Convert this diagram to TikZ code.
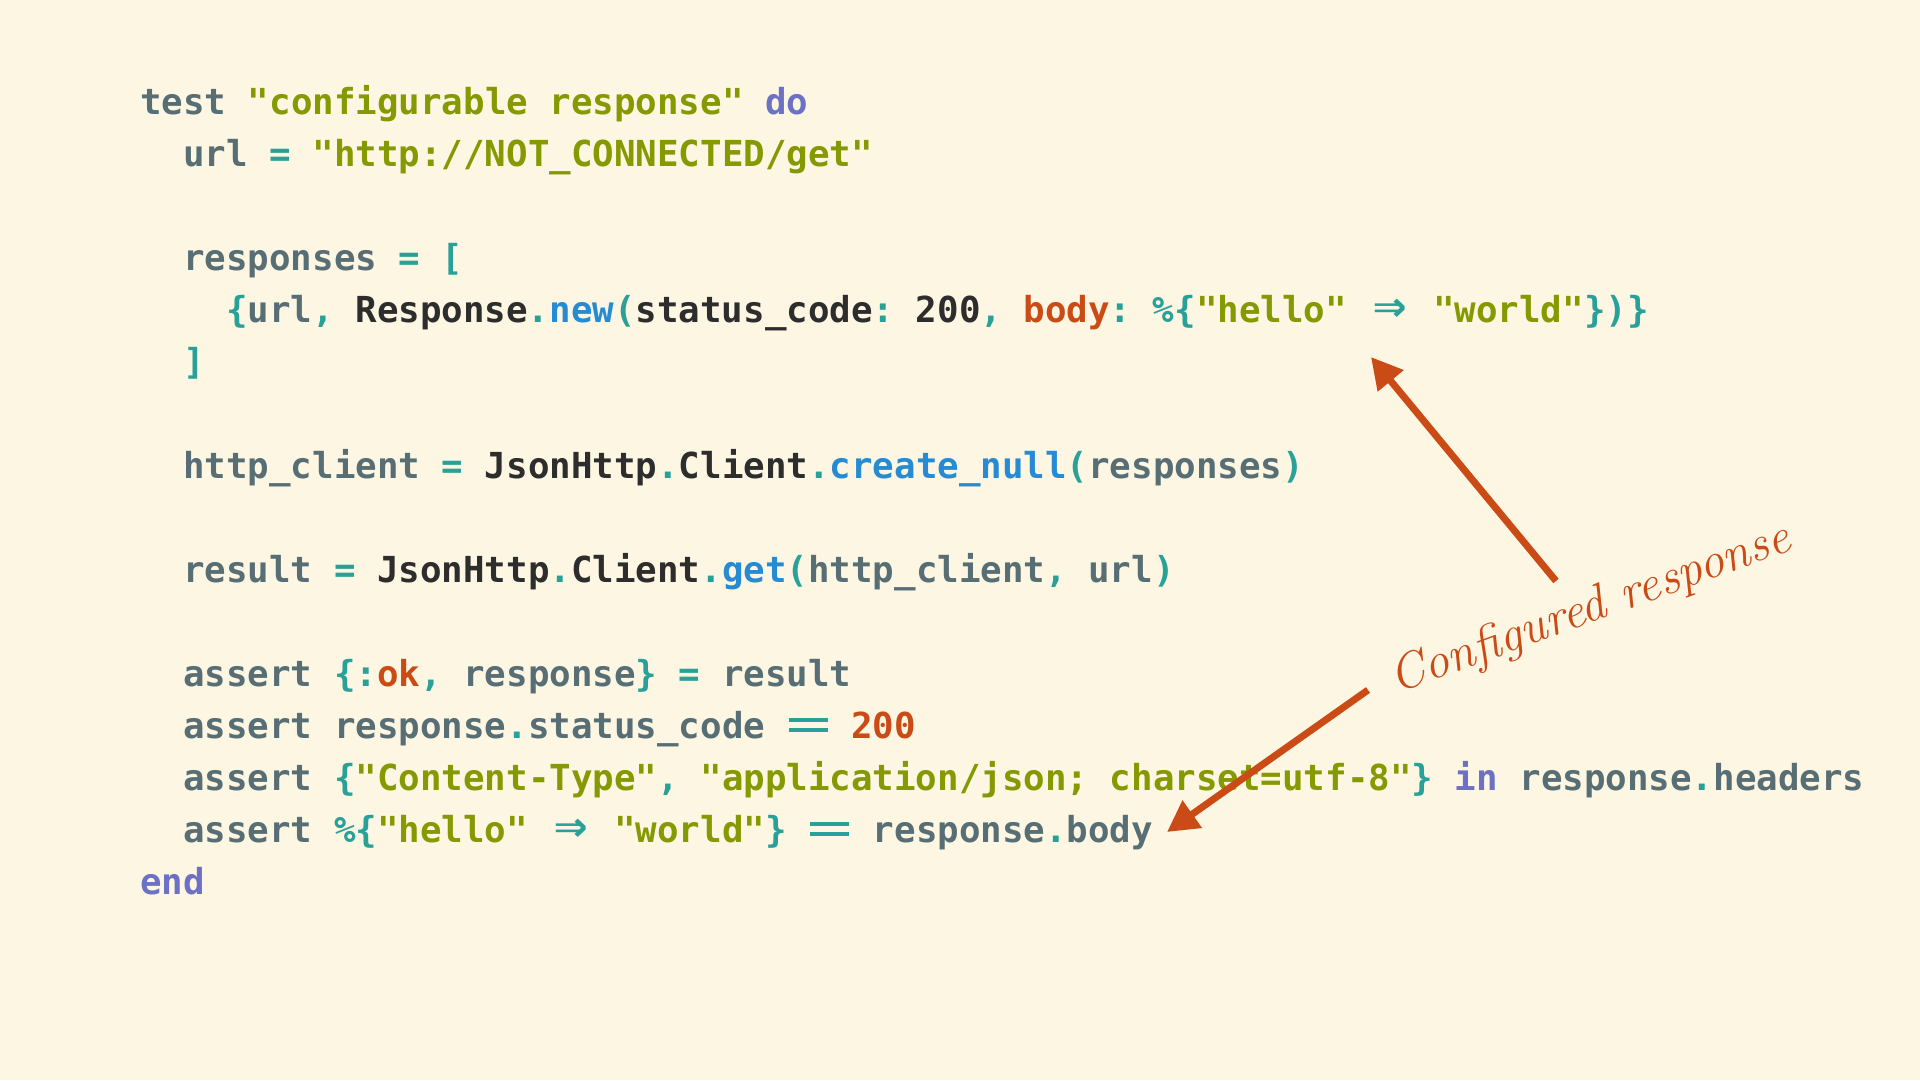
\documentclass[tikz,border=0pt]{standalone}
\usepackage{fontspec}
\usepackage{xcolor}
\usepackage{graphicx}
\usetikzlibrary{arrows.meta, positioning}
\newfontfamily\codefont{DejaVu Sans Mono}
\definecolor{paper}{RGB}{253, 246, 227}
\definecolor{codegray}{RGB}{88, 110, 117}
\definecolor{codedark}{RGB}{45, 45, 45}
\definecolor{codegreen}{RGB}{133, 153, 0}
\definecolor{codeviolet}{RGB}{108, 113, 196}
\definecolor{codecyan}{RGB}{42, 161, 152}
\definecolor{codeblue}{RGB}{38, 139, 210}
\definecolor{codeorange}{RGB}{203, 75, 22}
\newcommand{\cgray}[1]{\textcolor{codegray}{#1}}
\newcommand{\cdark}[1]{\textcolor{codedark}{#1}}
\newcommand{\cstr}[1]{\textcolor{codegreen}{#1}}
\newcommand{\ckey}[1]{\textcolor{codeviolet}{#1}}
\newcommand{\cop}[1]{\textcolor{codecyan}{#1}}
\newcommand{\cfun}[1]{\textcolor{codeblue}{#1}}
\newcommand{\cnum}[1]{\textcolor{codeorange}{#1}}
\newcommand{\fatarrow}{\makebox[1.204em][c]{\scalebox{1.55}[1.45]{⇒}}}
\newcommand{\eqeq}{\makebox[1.204em][c]{\rule[0.16em]{1.08em}{0.11em}\llap{\rule[0.46em]{1.08em}{0.11em}}}}
\tikzset{
    codeline/.style={anchor=base west, inner sep=0pt, text=codegray,
        font=\codefont\bfseries\fontsize{35.8}{43}\selectfont},
    note/.style={anchor=base west, inner sep=0pt, text=codeorange,
        font=\itshape\fontsize{50}{58}\selectfont},
    notearrow/.style={-{Triangle[length=31pt,width=32pt]}, line width=7pt, color=codeorange},
}
\frenchspacing
\begin{document}
\begin{tikzpicture}[x=1pt, y=-1pt]
    \fill[paper] (0,0) rectangle (1920,1080);
    \useasboundingbox (0,0) rectangle (1920,1080);
    % code listing, one node per line
    \node[codeline] (codetest) at (140,114) {\cgray{test} \cstr{"configurable response"} \ckey{do}};
    \node[codeline] (codeurl) at (183,166) {\cgray{url} \cop{=} \cstr{"http://NOT\_CONNECTED/get"}};
    \node[codeline] (coderesp) at (183,270) {\cgray{responses} \cop{= [}};
    \node[codeline] (codetuple) at (226,322) {\cop{\{}\cgray{url}\cop{,} \cdark{Response}\cop{.}\cfun{new}\cop{(}\cdark{status\_code}\cop{:} \cdark{200}\cop{,} \cnum{body}\cop{: \%\{}\cstr{"hello"} \cop{\fatarrow} \cstr{"world"}\cop{\})\}}};
    \node[codeline] (codeclose) at (183,374) {\cop{]}};
    \node[codeline] (codeclient) at (183,478) {\cgray{http\_client} \cop{=} \cdark{JsonHttp}\cop{.}\cdark{Client}\cop{.}\cfun{create\_null}\cop{(}\cgray{responses}\cop{)}};
    \node[codeline] (coderesult) at (183,582) {\cgray{result} \cop{=} \cdark{JsonHttp}\cop{.}\cdark{Client}\cop{.}\cfun{get}\cop{(}\cgray{http\_client}\cop{,} \cgray{url}\cop{)}};
    \node[codeline] (codeok) at (183,686) {\cgray{assert} \cop{\{:}\cnum{ok}\cop{,} \cgray{response}\cop{\}} \cop{=} \cgray{result}};
    \node[codeline] (codestatus) at (183,738) {\cgray{assert response}\cop{.}\cgray{status\_code} \cop{\eqeq} \cnum{200}};
    \node[codeline] (codeheaders) at (183,790) {\cgray{assert} \cop{\{}\cstr{"Content-Type"}\cop{,} \cstr{"application/json; charset=utf-8"}\cop{\}} \ckey{in} \cgray{response}\cop{.}\cgray{headers}};
    \node[codeline] (codebody) at (183,842) {\cgray{assert} \cop{\%\{}\cstr{"hello"} \cop{\fatarrow} \cstr{"world"}\cop{\}} \cop{\eqeq} \cgray{response}\cop{.}\cgray{body}};
    \node[codeline] (codeend) at (140,894) {\ckey{end}};
    % annotation
    \node[note, rotate=20] (configured) at (1396,694) {Configured response};
    \coordinate (uptip) at (1371,357);
    \coordinate (upstart) at (1556,581);
    \coordinate (lowstart) at (1368,690);
    \coordinate (lowtip) at (1167,832);
    \draw[notearrow] (upstart) -- (uptip);
    \draw[notearrow] (lowstart) -- (lowtip);
\end{tikzpicture}
\end{document}
